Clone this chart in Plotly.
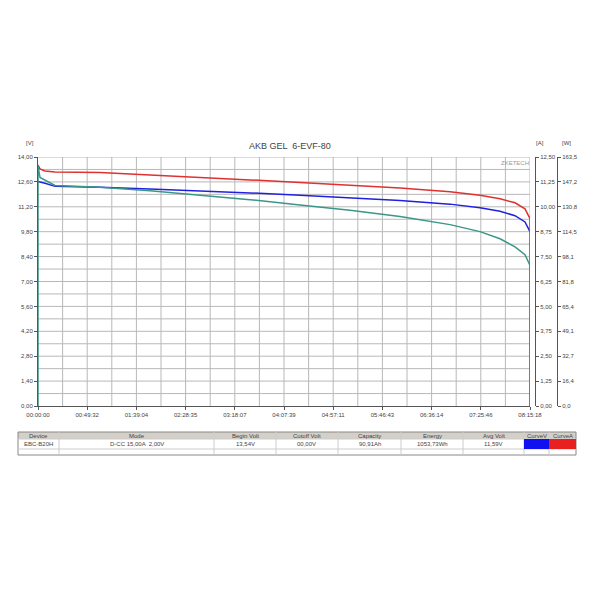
import plotly.graph_objects as go

# time in seconds since start
t_sec = [0, 121, 423, 1027, 3745, 6765, 9785, 12805, 15825, 18845,
         21866, 24886, 26698, 27906, 28812, 29416, 29718]
volt = [12.62, 12.58, 12.52, 12.35, 12.30, 12.20, 12.10, 11.98, 11.85, 11.70,
        11.55, 11.35, 11.15, 10.95, 10.70, 10.35, 9.80]
amp = [12.10, 11.90, 11.80, 11.75, 11.72, 11.60, 11.50, 11.35, 11.22, 11.08,
       10.95, 10.75, 10.58, 10.40, 10.20, 9.90, 9.40]
watt = [157.7, 150.1, 148.3, 144.8, 143.7, 141.3, 138.4, 135.5, 132.0, 128.5,
        124.4, 119.1, 114.5, 109.8, 104.5, 99.3, 92.3]

x_ticks = ['00:00:00', '00:49:32', '01:39:04', '02:28:35', '03:18:07', '04:07:39',
           '04:57:11', '05:46:43', '06:36:14', '07:25:46', '08:15:18']
v_ticks = ['0,00', '1,40', '2,80', '4,20', '5,60', '7,00', '8,40', '9,80',
           '11,20', '12,60', '14,00']
a_ticks = ['0,00', '1,25', '2,50', '3,75', '5,00', '6,25', '7,50', '8,75',
           '10,00', '11,25', '12,50']
w_ticks = ['0,0', '16,4', '32,7', '49,1', '65,4', '81,8', '98,1', '114,5',
           '130,8', '147,2', '163,5']

headers = ['Device', 'Mode', 'Begin Volt', 'Cutoff Volt', 'Capacity', 'Energy',
           'Avg Volt', 'CurveV', 'CurveA']
row = ['EBC-B20H', 'D-CC 15,00A  2,00V', '13,54V', '00,00V', '90,91Ah',
       '1053,73Wh', '11,59V', '', '']

T_END = 29718
x_vals = [T_END * i / 10 for i in range(11)]

# page has an 8px body margin, so screen = figure + 8
OFF = 8
L, R, T, B = 30, 51, 149, 202
PW, PH = 600 - L - R, 600 - T - B


def px(x):
    return (x - OFF - L) / PW


def py(y):
    return (600 - B - (y - OFF)) / PH


fig = go.Figure()
fig.add_trace(go.Scatter(x=[0] + t_sec + [T_END], y=[0] + watt + [0], yaxis='y3',
                         mode='lines', line=dict(color='#3a9688', width=1.5)))
fig.add_trace(go.Scatter(x=t_sec, y=volt, yaxis='y', mode='lines',
                         line=dict(color='#2020e0', width=1.5)))
fig.add_trace(go.Scatter(x=t_sec + [T_END], y=amp + [0], yaxis='y2', mode='lines',
                         line=dict(color='#e03030', width=1.5)))

font = dict(family='Liberation Sans', size=6, color='#444')
grid = '#b8b8b8'
axis_common = dict(showgrid=False, zeroline=False, ticks='outside', ticklen=3,
                   showline=True, linecolor='#555', tickcolor='#555',
                   automargin=False)
fig.update_layout(
    width=600, height=600, showlegend=False,
    paper_bgcolor='white', plot_bgcolor='white',
    margin=dict(l=L, r=R, t=T, b=B),
    font=font,
    xaxis=dict(range=[0, T_END], domain=[0, px(530)], tickvals=x_vals,
               ticktext=x_ticks, **axis_common),
    yaxis=dict(range=[0, 14], tickvals=[1.4 * i for i in range(11)],
               ticktext=v_ticks, **axis_common),
    yaxis2=dict(range=[0, 12.5], overlaying='y', side='right', anchor='free',
                position=px(535), tickvals=[1.25 * i for i in range(11)],
                ticktext=a_ticks, **axis_common),
    yaxis3=dict(range=[0, 163.5], overlaying='y', side='right', anchor='free',
                position=1.0, tickvals=[16.35 * i for i in range(11)],
                ticktext=w_ticks, **axis_common),
)

shapes = []
# grid: 20 x 20 cells
for i in range(1, 21):
    shapes.append(dict(type='line', xref='x', yref='paper', x0=T_END * i / 20,
                       x1=T_END * i / 20, y0=0, y1=1, line=dict(color=grid, width=1),
                       layer='below'))
    shapes.append(dict(type='line', xref='x domain', yref='y', x0=0, x1=1,
                       y0=0.7 * i, y1=0.7 * i, line=dict(color=grid, width=1),
                       layer='below'))

# summary table under the chart
col_edges = [18, 59, 214, 276, 338, 401, 463, 524, 549, 576]
y_top, y_head, y_row, y_bot = 432, 439, 449, 455
shapes.append(dict(type='rect', xref='paper', yref='paper', x0=px(18), x1=px(576),
                   y0=py(y_head), y1=py(y_top), fillcolor='#d4d0c8',
                   line=dict(width=0)))
shapes.append(dict(type='rect', xref='paper', yref='paper', x0=px(18), x1=px(576),
                   y0=py(y_bot), y1=py(y_top), line=dict(color='#888', width=1)))
for yy in (y_head, y_row):
    shapes.append(dict(type='line', xref='paper', yref='paper', x0=px(18), x1=px(576),
                       y0=py(yy), y1=py(yy), line=dict(color='#ccc', width=1)))
for e in col_edges[1:-1]:
    shapes.append(dict(type='line', xref='paper', yref='paper', x0=px(e), x1=px(e),
                       y0=py(y_bot), y1=py(y_top), line=dict(color='#ccc', width=1)))
shapes.append(dict(type='rect', xref='paper', yref='paper', x0=px(524), x1=px(549),
                   y0=py(y_row), y1=py(y_head), fillcolor='#1010f0', line=dict(width=0)))
shapes.append(dict(type='rect', xref='paper', yref='paper', x0=px(549), x1=px(576),
                   y0=py(y_row), y1=py(y_head), fillcolor='#e82020', line=dict(width=0)))
fig.update_layout(shapes=shapes)

ann = []
for i, (h, v) in enumerate(zip(headers, row)):
    cx = px((col_edges[i] + col_edges[i + 1]) / 2)
    ann.append(dict(x=cx, y=py((y_top + y_head) / 2), text=h))
    if v:
        ann.append(dict(x=cx, y=py((y_head + y_row) / 2), text=v))
ann.append(dict(x=px(290), y=py(146), text='AKB GEL  6-EVF-80',
                font=dict(size=9, color='#444')))
ann.append(dict(x=px(30), y=py(143), text='[V]'))
ann.append(dict(x=px(540), y=py(143), text='[A]'))
ann.append(dict(x=px(566), y=py(143), text='[W]'))
ann.append(dict(x=px(515), y=py(163), text='ZKETECH', font=dict(size=6, color='#999')))
for a in ann:
    a.update(xref='paper', yref='paper', showarrow=False, xanchor='center',
             yanchor='middle')
fig.update_layout(annotations=ann)

fig.write_html('out.html')
